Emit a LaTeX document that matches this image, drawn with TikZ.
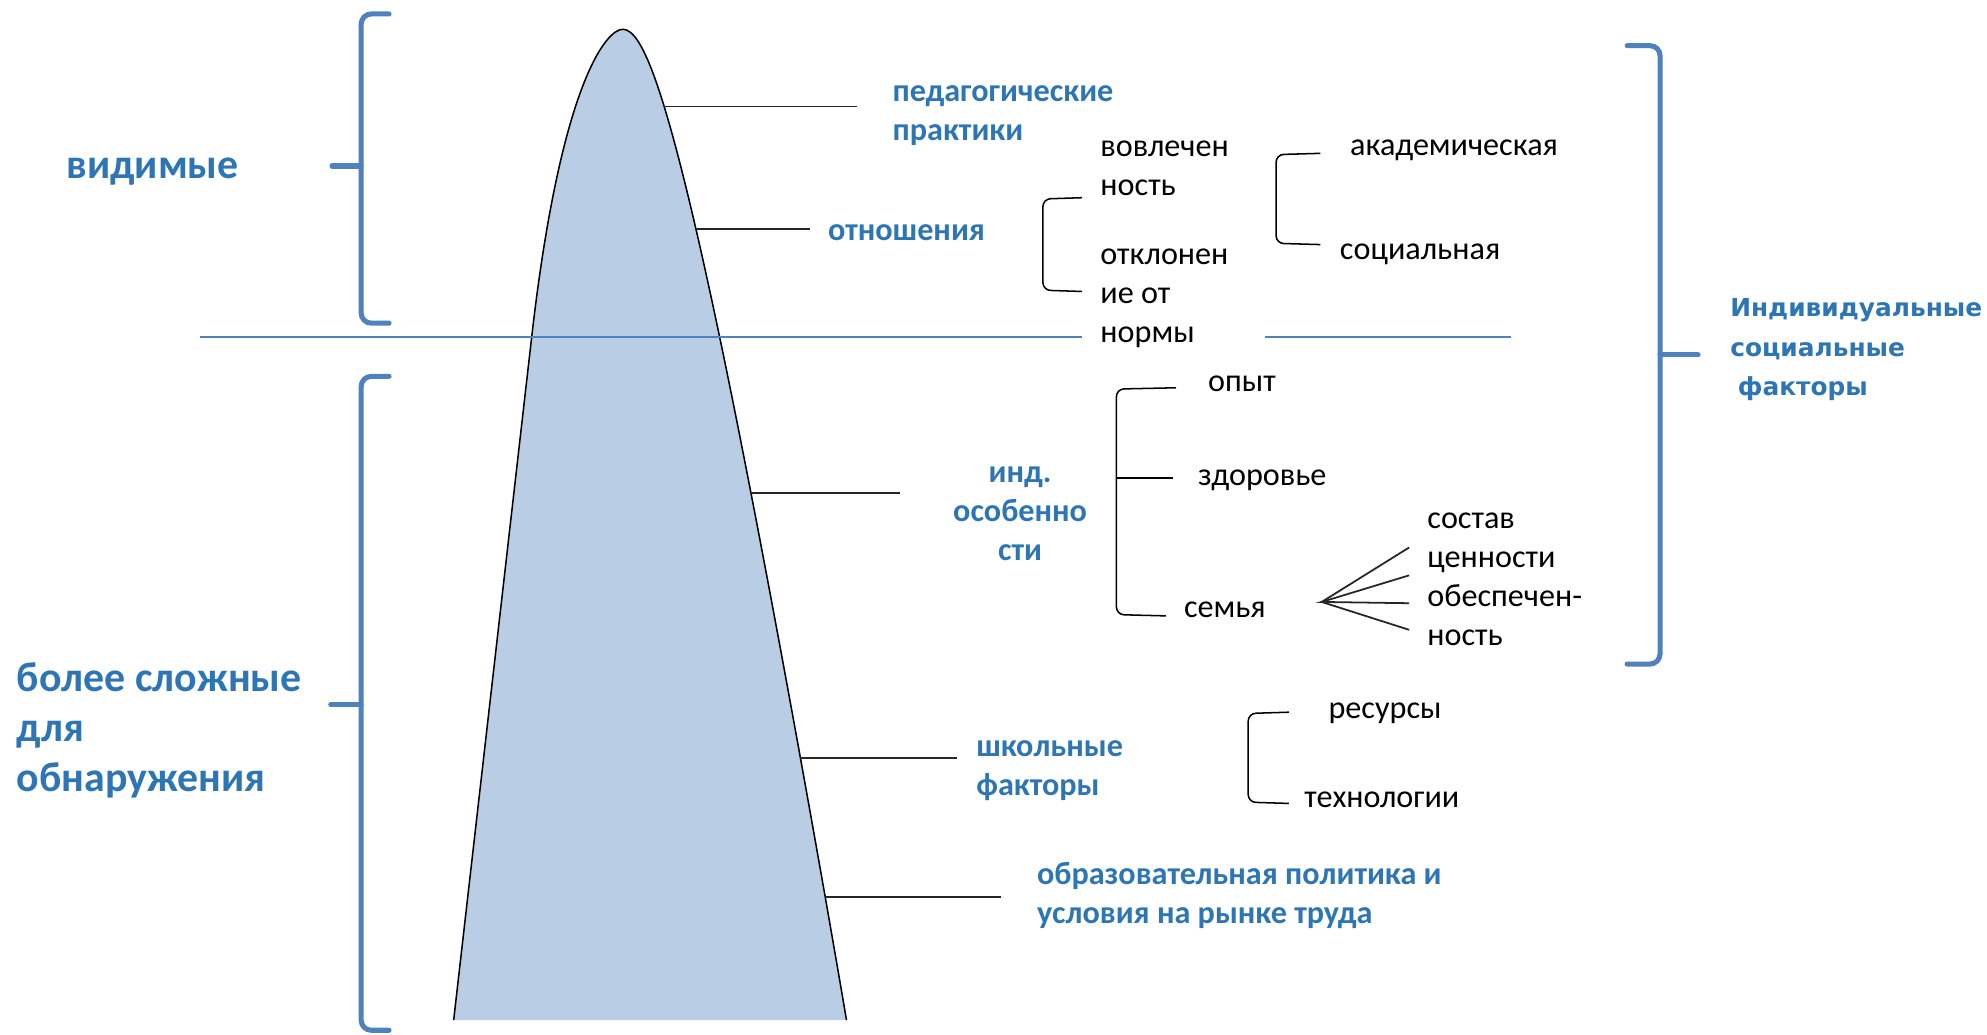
\documentclass[tikz,border=0pt]{standalone}
\usepackage{fontspec}
\setmainfont{Carlito}
\newfontfamily\vfont{DejaVu Sans}
\definecolor{txtblue}{RGB}{46,117,182}
\definecolor{brblue}{RGB}{79,129,189}
\definecolor{hillfill}{RGB}{185,205,229}
\begin{document}
\begin{tikzpicture}[x=0.5pt,y=-0.5pt,
  blab/.style={inner sep=0pt, anchor=base west, text=txtblue, font=\bfseries\fontsize{12.7}{15.4}\selectfont, align=left},
  klab/.style={inner sep=0pt, anchor=base west, text=black, font=\fontsize{12.7}{15.3}\selectfont, align=left},
  biglab/.style={inner sep=0pt, anchor=base west, text=txtblue, font=\bfseries\fontsize{16.5}{19.8}\selectfont, align=left},
  rlab/.style={inner sep=0pt, anchor=base west, text=txtblue, font=\vfont\bfseries\fontsize{9.8}{15.5}\selectfont, align=left},
  conn/.style={draw=black!85, line width=0.7pt},
  brk/.style={draw=black, line width=0.6pt, rounded corners=3pt},
  bigbrk/.style={draw=brblue, line width=2pt, rounded corners=4pt, line cap=round},
  hline/.style={draw=brblue, line width=1pt},
]
\useasboundingbox (0,0) rectangle (1568,816);
\fill[white] (0,0) rectangle (1568,816);

% hill
\fill[hillfill] (358,805) -- (419.5,266.5) .. controls (442.3,66.5) and (478.4,23.1) .. (491.4,23.1)
  .. controls (506.4,23.1) and (526,66.5) .. (568,266.5)
  .. controls (599.5,416.5) and (642.5,655) .. (668,805) -- cycle;
\draw[line width=0.6pt] (358,805) -- (419.5,266.5) .. controls (442.3,66.5) and (478.4,23.1) .. (491.4,23.1)
  .. controls (506.4,23.1) and (526,66.5) .. (568,266.5)
  .. controls (599.5,416.5) and (642.5,655) .. (668,805);

% coordinates on hill edge and line ends
\coordinate (h1) at (524,84);   \coordinate (e1) at (676,84);
\coordinate (h2) at (549,181);  \coordinate (e2) at (639,181);
\coordinate (h3) at (593,389);  \coordinate (e3) at (710,389);
\coordinate (h4) at (631.5,598);  \coordinate (e4) at (755,598);
\coordinate (h5) at (651.2,708);  \coordinate (e5) at (790,708);

% horizontal water line
\coordinate (w1) at (158,266); \coordinate (w2) at (854,266);
\coordinate (w3) at (998,266); \coordinate (w4) at (1192,266);
\draw[hline] (w1) -- (w2);
\draw[hline] (w3) -- (w4);

% big blue brackets
\draw[bigbrk] (307,11) -- (285,11) -- (285,255) -- (307,255);
\draw[bigbrk] (285,131) -- (262,131);
\draw[bigbrk] (307,297) -- (285,297) -- (285,813) -- (307,813);
\draw[bigbrk] (285,556) -- (261,556);
\draw[bigbrk] (1284,36) -- (1310,36) -- (1310,524) -- (1284,524);
\draw[bigbrk] (1310,280) -- (1340,280);

% labels (multi-line nodes: base = last line)
\node[biglab] (vid) at (52,141) {видимые};
\node[biglab] (hard) at (13,624.5) {более сложные\\для\\обнаружения};
\node[blab] (ped) at (704,111) {педагогические\\практики};
\node[blab] (otn) at (653,190) {отношения};
\node[blab, align=center, anchor=base] (ind) at (805,442) {инд.\\особенно\\сти};
\node[blab] (shk) at (770,628) {школьные\\факторы};
\node[blab] (obr) at (818,729) {образовательная политика и\\условия на рынке труда};
\node[klab] (vov) at (868,154) {вовлечен\\ность};
\node[klab] (otk) at (868,270) {отклонен\\ие от\\нормы};
\node[klab] (akad) at (1065,123) {академическая};
\node[klab] (soc) at (1057,205) {социальная};
\node[klab] (opyt) at (953,309) {опыт};
\node[klab] (zdor) at (945,383) {здоровье};
\node[klab] (sem) at (934,487) {семья};
\node[klab] (sost) at (1126,509) {состав\\ценности\\обеспечен-\\ность};
\node[klab] (res) at (1048,567) {ресурсы};
\node[klab] (tech) at (1029,637) {технологии};
\node[rlab] (indsoc) at (1365,312) {Индивидуальные\\социальные\\\hspace*{3pt}факторы};

% connectors from hill
\draw[conn] (h1) -- (e1);
\draw[conn] (h2) -- (e2);
\draw[conn] (h3) -- (e3);
\draw[conn] (h4) -- (e4);
\draw[conn] (h5) -- (e5);

% small black brackets
\draw[brk] (854,156) -- (823,157) -- (823,229) -- (854,230);
\draw[brk] (1042,121) -- (1007,122) -- (1007,192) -- (1042,193);
\draw[brk] (928,306) -- (881,307) -- (881,485) -- (920,486);
\draw[brk] (881,377) -- (926,377);
\draw[brk] (1017,562) -- (985,563) -- (985,633) -- (1017,634);

% fan
\coordinate (fan) at (1043,475);
\coordinate (f1) at (1112,432);
\coordinate (f2) at (1112,454);
\coordinate (f3) at (1112,476);
\coordinate (f4) at (1112,497);
\draw[conn] (f1) -- (fan) -- (f4);
\draw[conn] (f2) -- (fan) -- (f3);
\end{tikzpicture}
\end{document}
